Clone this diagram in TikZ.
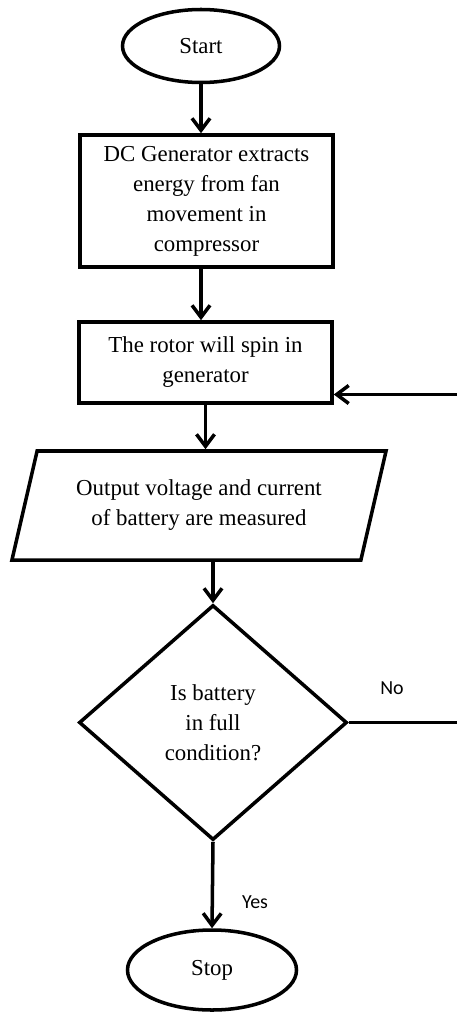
\documentclass[tikz,border=0pt]{standalone}
\usepackage{fontspec}
\setmainfont{Liberation Serif}
\newfontfamily\tagfont{Carlito}
\usetikzlibrary{shapes.geometric,arrows.meta}

\begin{document}
\begin{tikzpicture}[x=0.03cm,y=-0.03cm,line width=3pt,
  font=\fontsize{19.5}{25.6}\selectfont,
  terminal/.style={draw,ellipse,inner sep=0pt,minimum width=4.71cm,minimum height=2.19cm},
  procbox/.style={draw,rectangle,inner sep=0pt,minimum width=7.59cm,align=center},
  iobox/.style={draw,trapezium,trapezium left angle=69.4,trapezium right angle=110.6,
    trapezium stretches=true,inner sep=0pt,minimum width=11.25cm,minimum height=3.27cm,align=center},
  decision/.style={draw,diamond,inner sep=0pt,minimum width=8.04cm,minimum height=7.05cm,align=center},
  flow/.style={-{Straight Barb[length=3.6mm,width=5.4mm]}},
  tag/.style={font=\tagfont\fontsize{17}{20}\selectfont}]
  \useasboundingbox (0,0) rectangle (457,1012);
  \node[terminal] (start) at (201,46) {Start};
  \node[procbox,minimum height=3.96cm] (extract) at (206.5,201)
    {DC Generator extracts\\energy from fan\\movement in\\compressor};
  \node[procbox,minimum height=2.43cm] (spin) at (205.5,362.5)
    {The rotor will spin in\\generator};
  \node[iobox] (measure) at (199,505.5)
    {Output voltage and current\\of battery are measured};
  \node[decision] (full) at (213,722.5) {Is battery\\in full\\condition?};
  \node[terminal,minimum width=5.07cm,minimum height=2.4cm] (stop) at (212,970) {Stop};
  \node[tag] (no) at (392,688) {No};
  \node[tag] (yes) at (255,902) {Yes};
  \draw[flow] (start.south) -- (start.south |- extract.north);
  \draw[flow] (start.south |- extract.south) -- (start.south |- spin.north);
  \draw[flow] (spin.south) -- (spin.south |- measure.north);
  \draw[flow] (full.north |- measure.south) -- (full.north);
  \draw[flow] (full.south) -- (stop.north);
  \draw[flow] (full.east) -- ++(112,0) |- ([yshift=-0.96cm]spin.east);
\end{tikzpicture}
\end{document}
